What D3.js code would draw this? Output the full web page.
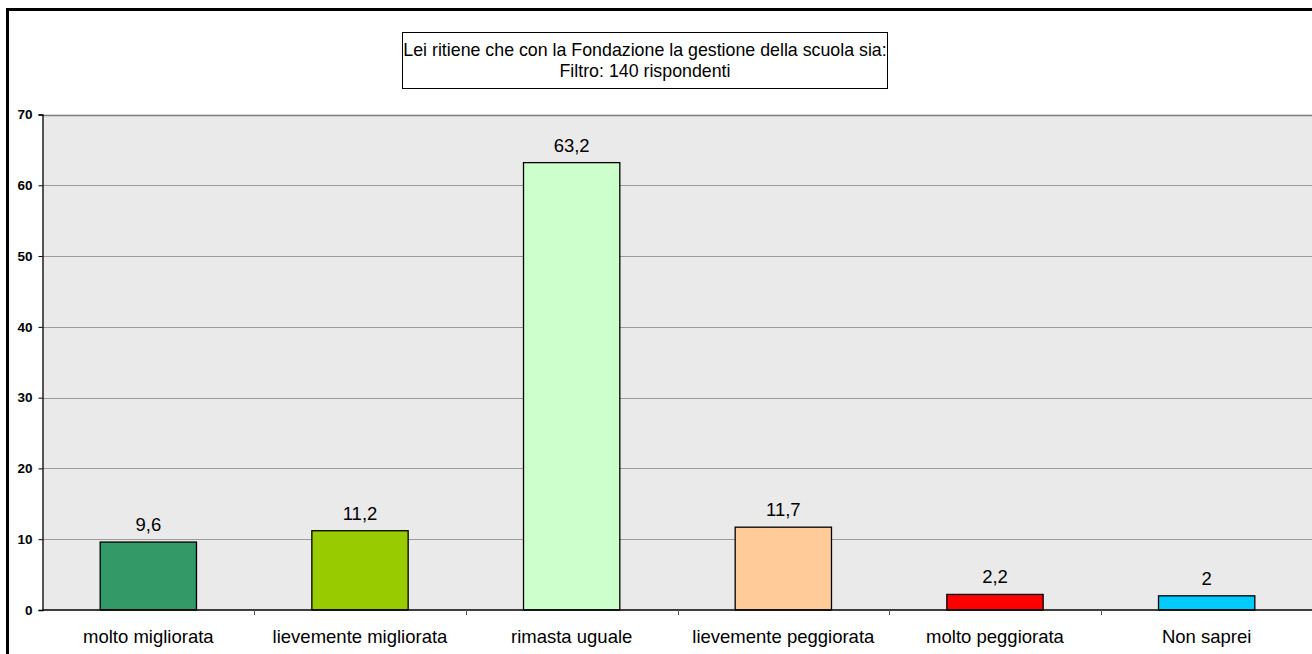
<!DOCTYPE html>
<html>
<head>
<meta charset="utf-8">
<script src="https://cdn.jsdelivr.net/npm/d3@7"></script>
<style>
  body { margin: 0; background: #fff; }
  svg { display: block; font-family: Arial, "Liberation Sans", sans-serif; }
</style>
</head>
<body>
<script>
var categories = ["molto migliorata", "lievemente migliorata", "rimasta uguale",
    "lievemente peggiorata", "molto peggiorata", "Non saprei"];
var values = [9.6, 11.2, 63.2, 11.7, 2.2, 2];
var barColors = ["#339966", "#99CC00", "#CCFFCC", "#FFCC99", "#FF0000", "#00CCFF"];
var yTicks = [0, 10, 20, 30, 40, 50, 60, 70];
var titleLines = ["Lei ritiene che con la Fondazione la gestione della scuola sia:",
    "Filtro: 140 rispondenti"];

var width = 1312,
    height = 654;
var margin = { left: 42.5, right: -0.5, top: 114.5, bottom: 44 };

var svg = d3.select("body")
    .append("svg")
    .attr("width", width)
    .attr("height", height);

// outer frame
svg.append("rect")
    .attr("x", 7.5).attr("y", 9.5)
    .attr("width", width + 10).attr("height", height + 10)
    .attr("fill", "#fff")
    .attr("stroke", "#000")
    .attr("stroke-width", 3);

var x = d3.scaleBand()
    .domain(categories)
    .range([margin.left, width - margin.right])
    .paddingInner(0.545)
    .paddingOuter(0.2725);
var y = d3.scaleLinear()
    .domain([0, 70])
    .range([height - margin.bottom, margin.top]);

// plot background
svg.append("rect")
    .attr("x", margin.left).attr("y", y(70))
    .attr("width", width - margin.right - margin.left)
    .attr("height", y(0) - y(70))
    .attr("fill", "#EAEAEA");

// gridlines
svg.selectAll(".grid")
    .data(yTicks.slice(1))
    .enter()
    .append("line")
    .attr("x1", margin.left).attr("x2", width)
    .attr("y1", function (d) { return Math.round(y(d)) + 0.5; })
    .attr("y2", function (d) { return Math.round(y(d)) + 0.5; })
    .attr("stroke", function (d) { return d == 70 ? "#808080" : "#9a9a9a"; })
    .attr("stroke-width", function (d) { return d == 70 ? 1.5 : 1; });

// bars
svg.selectAll(".bar")
    .data(values)
    .enter()
    .append("rect")
    .attr("x", function (d, i) { return x(categories[i]); })
    .attr("y", function (d) { return y(d); })
    .attr("width", x.bandwidth())
    .attr("height", function (d) { return y(0) - y(d); })
    .attr("fill", function (d, i) { return barColors[i]; })
    .attr("stroke", "#000")
    .attr("stroke-width", 1.3);

// value labels
svg.selectAll(".val")
    .data(values)
    .enter()
    .append("text")
    .attr("x", function (d, i) { return x(categories[i]) + x.bandwidth() / 2; })
    .attr("y", function (d) { return y(d) - 11; })
    .attr("text-anchor", "middle")
    .attr("font-size", "18.5px")
    .attr("fill", "#000")
    .text(function (d) { return String(d).replace(".", ","); });

// y axis
var yAxis = svg.append("g")
    .attr("transform", "translate(" + margin.left + ",0)")
    .call(d3.axisLeft(y).tickValues(yTicks).tickSize(4).tickPadding(6));
yAxis.select(".domain").attr("stroke", "#000").attr("stroke-width", 1.3);
yAxis.selectAll(".tick line").attr("stroke", "#000");
yAxis.selectAll("text")
    .attr("font-size", "13.5px")
    .attr("font-weight", "bold")
    .attr("font-family", "Arial, 'Liberation Sans', sans-serif")
    .attr("fill", "#000");

// x axis line
svg.append("line")
    .attr("x1", margin.left).attr("x2", width)
    .attr("y1", y(0)).attr("y2", y(0))
    .attr("stroke", "#000")
    .attr("stroke-width", 1.3);

// x axis ticks at category boundaries
var step = x.step();
svg.selectAll(".xtick")
    .data(categories.slice(1))
    .enter()
    .append("line")
    .attr("x1", function (d) { return Math.round(x(d) - x.paddingInner() * step / 2) + 0.5; })
    .attr("x2", function (d) { return Math.round(x(d) - x.paddingInner() * step / 2) + 0.5; })
    .attr("y1", y(0)).attr("y2", y(0) + 5)
    .attr("stroke", "#555");

// category labels
svg.selectAll(".cat")
    .data(categories)
    .enter()
    .append("text")
    .attr("x", function (d) { return x(d) + x.bandwidth() / 2; })
    .attr("y", y(0) + 33)
    .attr("text-anchor", "middle")
    .attr("font-size", "18.5px")
    .attr("fill", "#000")
    .text(function (d) { return d; });

// title box
svg.append("rect")
    .attr("x", 402.5).attr("y", 32.5)
    .attr("width", 485).attr("height", 56)
    .attr("fill", "#fff")
    .attr("stroke", "#000")
    .attr("stroke-width", 1);
svg.selectAll(".title")
    .data(titleLines)
    .enter()
    .append("text")
    .attr("x", 645)
    .attr("y", function (d, i) { return 56 + i * 21; })
    .attr("text-anchor", "middle")
    .attr("font-size", "17.8px")
    .attr("fill", "#000")
    .text(function (d) { return d; });
</script>
</body>
</html>
